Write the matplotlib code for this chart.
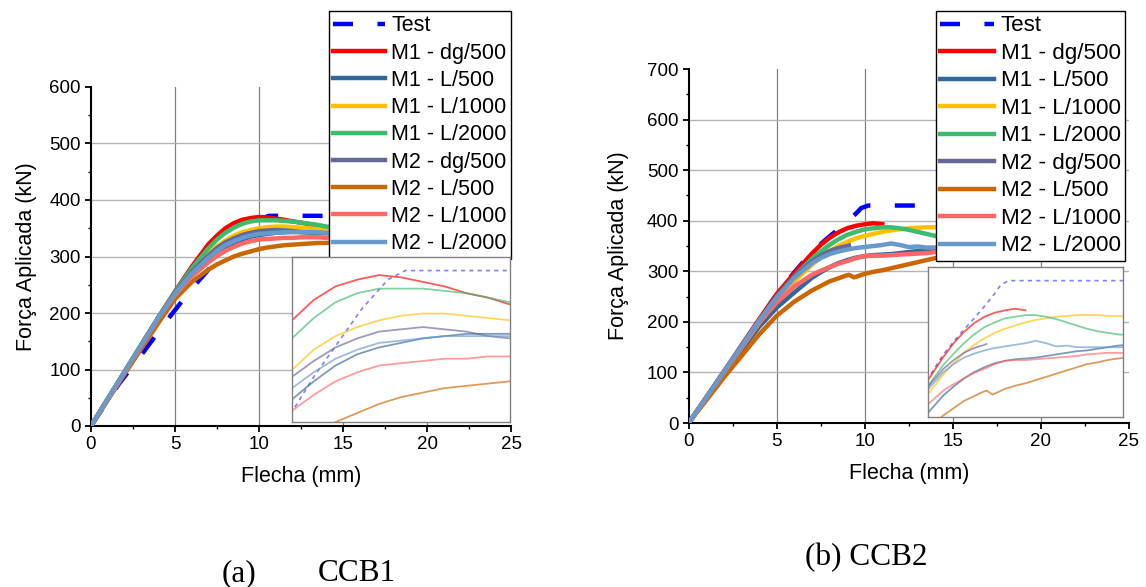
import matplotlib
matplotlib.use("Agg")
import matplotlib.pyplot as plt
from matplotlib.ticker import MultipleLocator

plt.rcParams['font.family'] = ['Liberation Sans', 'DejaVu Sans']

labels = ["Test", "M1 - dg/500", "M1 - L/500", "M1 - L/1000", "M1 - L/2000",
          "M2 - dg/500", "M2 - L/500", "M2 - L/1000", "M2 - L/2000"]
colors = ["#0000ff", "#ff0000", "#336699", "#ffc000", "#3cbc6c",
          "#666699", "#cc6600", "#ff6666", "#6699cc"]

# CCB1 (left) - curves continue behind the legend, so they stop at 14.5 mm
ccb1_test_x = [0, 1.65, 3.1, 4.55, 6.0, 7.5, 8.5, 9.6, 10.2, 10.6, 14.5]
ccb1_test_y = [0, 74, 130, 188, 243, 294, 325, 355, 368, 372, 372]
ccb1_x = [0, 2, 4, 5, 6, 7, 7.5, 8, 8.5, 9, 9.5, 10, 10.5, 11, 11.5, 12, 12.5, 13, 13.5, 14, 14.5]
ccb1_m1_dg500 = [0, 96, 192, 238, 282, 322, 337, 350, 359, 365, 368, 370, 369, 367, 365, 362, 360, 357, 355, 352, 350]
ccb1_m1_l500 = [0, 95, 190, 233, 268, 295, 306, 315, 323, 330, 335, 338, 340, 342, 343, 344, 344, 344, 344, 343, 343]
ccb1_m1_l1000 = [0, 96, 191, 235, 274, 305, 318, 328, 337, 343, 347, 350, 352, 353, 353, 352, 351, 350, 349, 348, 347]
ccb1_m1_l2000 = [0, 96, 192, 237, 279, 315, 330, 342, 351, 358, 362, 364, 364, 364, 363, 362, 360, 358, 356, 353, 351]
ccb1_m2_dg500 = [0, 96, 191, 235, 273, 302, 315, 325, 332, 338, 342, 345, 346, 347, 346, 345, 343, 342, 341, 341, 340]
ccb1_m2_l500 = [0, 92, 182, 225, 255, 277, 286, 293, 300, 305, 309, 313, 316, 318, 320, 321, 322, 323, 324, 324, 325]
ccb1_m2_l1000 = [0, 95, 190, 232, 265, 290, 301, 310, 317, 323, 327, 330, 331, 332, 333, 333, 334, 334, 334, 333, 333]
ccb1_m2_l2000 = [0, 96, 191, 234, 270, 298, 310, 320, 327, 333, 337, 340, 341, 342, 343, 343, 343, 343, 343, 342, 342]

# CCB2 (right)
ccb2_test_x = [0, 2, 4, 5, 6, 7, 7.5, 8, 8.5, 9, 9.5, 9.8, 10.2, 16]
ccb2_test_y = [0, 101, 203, 254, 298, 338, 354, 369, 383, 398, 414, 425, 430, 430]
ccb2_x = [0, 2, 4, 5, 6, 7, 7.5, 8, 8.5, 9, 9.5, 10, 10.5, 11, 11.5, 12, 12.5, 13, 13.5, 14, 14.5, 15, 15.5, 16]
ccb2_m1_dg500_x = [0, 2, 4, 5, 6, 7, 7.5, 8, 8.5, 9, 9.5, 10, 10.5, 11]
ccb2_m1_dg500 = [0, 102, 205, 255, 296, 335, 352, 366, 377, 385, 390, 393, 395, 393]
ccb2_m1_l500 = [0, 98, 190, 228, 258, 287, 298, 308, 316, 322, 327, 330, 332, 333, 334, 336, 338, 340, 342, 343, 345, 347, 349, 350]
ccb2_m1_l1000 = [0, 100, 198, 243, 280, 313, 327, 340, 350, 358, 365, 370, 374, 378, 381, 383, 385, 386, 387, 387, 387, 386, 386, 385]
ccb2_m1_l2000 = [0, 101, 202, 250, 290, 325, 339, 352, 363, 372, 378, 383, 385, 387, 387, 385, 382, 378, 374, 370, 367, 365, 363, 362]
ccb2_m2_dg500_x = [0, 2, 4, 5, 6, 7, 7.5, 8, 8.5, 9, 9.1]
ccb2_m2_dg500 = [0, 101, 202, 250, 290, 320, 331, 340, 346, 350, 351]
ccb2_m2_l500_x = [0, 2, 4, 5, 6, 7, 7.5, 8, 8.5, 8.9, 9.1, 9.4, 10, 10.5, 11, 11.5, 12, 12.5, 13, 13.5, 14, 14.5, 15, 15.5, 16]
ccb2_m2_l500 = [0, 90, 175, 212, 240, 262, 271, 280, 286, 291, 293, 288, 295, 299, 302, 306, 310, 314, 318, 322, 326, 328, 331, 333, 334]
ccb2_m2_l1000 = [0, 100, 198, 238, 270, 293, 301, 308, 315, 320, 326, 330, 331, 331, 332, 333, 334, 335, 336, 338, 339, 340, 340, 340]
ccb2_m2_l2000 = [0, 101, 202, 248, 287, 316, 326, 334, 339, 343, 346, 348, 350, 352, 355, 352, 348, 349, 347, 347, 347, 347, 347, 347]

ccb1_series = [(ccb1_test_x, ccb1_test_y), (ccb1_x, ccb1_m1_dg500), (ccb1_x, ccb1_m1_l500),
               (ccb1_x, ccb1_m1_l1000), (ccb1_x, ccb1_m1_l2000), (ccb1_x, ccb1_m2_dg500),
               (ccb1_x, ccb1_m2_l500), (ccb1_x, ccb1_m2_l1000), (ccb1_x, ccb1_m2_l2000)]
ccb2_series = [(ccb2_test_x, ccb2_test_y), (ccb2_m1_dg500_x, ccb2_m1_dg500), (ccb2_x, ccb2_m1_l500),
               (ccb2_x, ccb2_m1_l1000), (ccb2_x, ccb2_m1_l2000), (ccb2_m2_dg500_x, ccb2_m2_dg500),
               (ccb2_m2_l500_x, ccb2_m2_l500), (ccb2_x, ccb2_m2_l1000), (ccb2_x, ccb2_m2_l2000)]

W, H = 1146, 587


def draw_main(ax, series, ymax, legend_xy, legend_size, ylabelpad):
    for (x, y), c, lab in zip(series, colors, labels):
        if lab == "Test":
            ax.plot(x, y, color=c, lw=3.2, dashes=(4.5, 5.5), label=lab, zorder=2)
        else:
            ax.plot(x, y, color=c, lw=3.2, label=lab, zorder=3)

    ax.set_xlim(0, 25)
    ax.set_ylim(0, ymax)
    for s in ("top", "right"):
        ax.spines[s].set_visible(False)
    for s in ("left", "bottom"):
        ax.spines[s].set_linewidth(1.5)
    ax.set_xticks(range(0, 26, 5))
    ax.set_yticks(range(0, ymax + 1, 100))
    ax.xaxis.set_minor_locator(MultipleLocator(2.5))
    ax.yaxis.set_minor_locator(MultipleLocator(50))
    ax.tick_params(which="major", length=4.5, width=1.3, labelsize=13.5, pad=3)
    ax.tick_params(which="minor", length=2.5, width=1.0)

    # grid, without the line at the top limit
    for xv in range(5, 25, 5):
        ax.axvline(xv, color="#808080", lw=0.9, zorder=0)
    for yv in range(100, ymax, 100):
        ax.axhline(yv, color="#b3b3b3", lw=1.0, zorder=0)

    ax.set_xlabel("Flecha (mm)", fontsize=15.5, labelpad=9)
    ax.set_ylabel("Força Aplicada (kN)", fontsize=15.5, labelpad=ylabelpad)

    leg = ax.legend(loc="upper left", bbox_to_anchor=legend_xy, bbox_transform=ax.figure.transFigure,
                    borderaxespad=0, fontsize=legend_size, labelspacing=0.29, borderpad=0.2,
                    handlelength=2.4, handletextpad=0.3, fancybox=False, framealpha=1,
                    edgecolor="black")
    leg.get_frame().set_linewidth(1.0)


def draw_inset(rect, series, xlim, ylim):
    ins = fig.add_axes(rect)
    ins.set_facecolor("white")
    for (x, y), c, lab in zip(series, colors, labels):
        if lab == "Test":
            ins.plot(x, y, color=c, lw=1.2, dashes=(2.5, 2.5), alpha=0.5)
        else:
            ins.plot(x, y, color=c, lw=1.3, alpha=0.65)
    ins.set_xlim(*xlim)
    ins.set_ylim(*ylim)
    ins.set_xticks([])
    ins.set_yticks([])
    for s in ins.spines.values():
        s.set_color("#808080")
        s.set_linewidth(1.0)


fig = plt.figure(figsize=(W / 100, H / 100), dpi=100)

ax1 = fig.add_axes([91 / W, 1 - 426 / H, 420 / W, 339 / H])
draw_main(ax1, ccb1_series, 600, (329 / W, 1 - 11 / H), 15.5, 9)
ax2 = fig.add_axes([688.7 / W, 1 - 423 / H, 440 / W, 354 / H])
draw_main(ax2, ccb2_series, 700, (936 / W, 1 - 11 / H), 16.1, 13)

draw_inset([292 / W, 1 - 422 / H, 218 / W, 165 / H], ccb1_series, (8, 13), (305, 378))
draw_inset([928 / W, 1 - 417 / H, 195 / W, 150 / H], ccb2_series, (6.25, 15.75), (260, 447))

serif = ['Liberation Serif', 'DejaVu Serif']
fig.text(222 / W, 1 - 581 / H, "(a)", fontsize=22.5, family=serif, va="baseline")
fig.text(318 / W, 1 - 581 / H, "CCB1", fontsize=22.5, family=serif, va="baseline")
fig.text(805 / W, 1 - 565 / H, "(b) CCB2", fontsize=22.5, family=serif, va="baseline")

fig.savefig("out.png", dpi=100, facecolor="white")
